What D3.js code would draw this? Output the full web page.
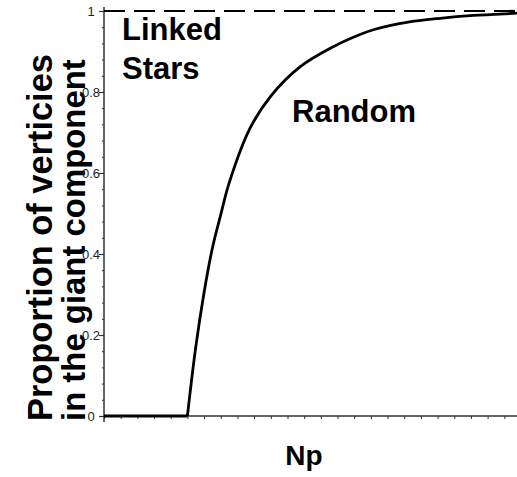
<!DOCTYPE html>
<html>
<head>
<meta charset="utf-8">
<script src="https://cdn.jsdelivr.net/npm/d3@7"></script>
<style>
  html, body { margin: 0; padding: 0; background: #fff; }
  svg { display: block; }
  text { font-family: "Liberation Sans", Arial, sans-serif; }
</style>
</head>
<body>
<svg id="chart" width="517" height="477"></svg>
<script>
// Below threshold (Np < 1) there is no giant component
const flatNp = [0, 1];
const flatFraction = [0, 0];

// Random graph: fraction of vertices in the giant component vs. Np
const randomNp = [1, 1.1, 1.2, 1.3, 1.4, 1.5, 1.75, 2, 2.35, 2.75, 3.07, 3.25, 3.63, 4.03, 4.43, 4.9, 5];
const randomFraction = [0, 0.17, 0.305, 0.415, 0.497, 0.575, 0.71, 0.79, 0.862, 0.912, 0.942, 0.955, 0.972, 0.982, 0.989, 0.994, 0.995];

// Linked stars: everything is connected
const starsFraction = 1;

const yTickValues = [0, 0.2, 0.4, 0.6, 0.8, 1];
const yTickLabels = ["0", "0.2", "0.4", "0.6", "0.8", "1"];

const svg = d3.select("#chart");
const x = d3.scaleLinear().domain([0, 5]).range([104, 521]);
const y = d3.scaleLinear().domain([0, 1]).range([416, 11]);

const axisColor = "#333";
const bold = sel => sel.attr("font-weight", "bold").attr("fill", "#000");

// Axis title (drawn first so tick labels sit on top of it)
const yTitle = svg.append("text")
  .attr("transform", "translate(0,421) rotate(-90)")
  .call(bold);
yTitle.append("tspan").attr("x", 0).attr("y", 52).attr("font-size", 34.4)
  .text("Proportion of verticies");
yTitle.append("tspan").attr("x", 0).attr("y", 85).attr("font-size", 32.9)
  .text("in the giant component");

// Axes
const yMinor = d3.range(0, 1.0001, 0.04);
const xMinor = d3.range(0, 5.0001, 0.2);

const yAxisG = svg.append("g").attr("transform", `translate(${x(0)},0)`);
yAxisG.call(d3.axisLeft(y).tickValues(yMinor).tickSize(2).tickFormat(""));
yAxisG.select(".domain").remove();
yAxisG.selectAll("line").attr("stroke", axisColor);
const yMajor = svg.append("g").attr("transform", `translate(${x(0)},0)`)
  .call(d3.axisLeft(y).tickValues(yTickValues).tickSize(5).tickPadding(8)
    .tickFormat((d, i) => yTickLabels[i]));
yMajor.select(".domain").remove();
yMajor.selectAll("line").attr("stroke", axisColor).attr("stroke-width", 1.2);
yMajor.selectAll("text")
  .attr("font-size", 13).attr("fill", "#222")
  .attr("text-anchor", "middle").attr("x", -13);

const xAxisG = svg.append("g").attr("transform", `translate(0,${y(0)})`);
xAxisG.call(d3.axisBottom(x).tickValues(xMinor).tickSize(3).tickFormat(""));
xAxisG.select(".domain").remove();
xAxisG.selectAll("line").attr("stroke", axisColor);

svg.append("line")
  .attr("x1", x(0)).attr("x2", 517)
  .attr("y1", y(0)).attr("y2", y(0))
  .attr("stroke", axisColor).attr("stroke-width", 1.5);
svg.append("line")
  .attr("x1", x(0)).attr("x2", x(0))
  .attr("y1", y(0) + 6).attr("y2", y(1) - 4)
  .attr("stroke", axisColor).attr("stroke-width", 1.5);

// Linked stars reference line
svg.append("line")
  .attr("x1", x(0)).attr("x2", 517)
  .attr("y1", y(starsFraction)).attr("y2", y(starsFraction))
  .attr("stroke", "#000").attr("stroke-width", 2.2)
  .attr("stroke-dasharray", "21,9");

// Random graph curve
const flatLine = d3.line().x(d => x(d[0])).y(d => y(d[1]));
svg.append("path")
  .attr("d", flatLine(d3.zip(flatNp, flatFraction)))
  .attr("fill", "none").attr("stroke", "#000").attr("stroke-width", 3);

const curve = d3.line().x(d => x(d[0])).y(d => y(d[1])).curve(d3.curveCatmullRom.alpha(0.5));
svg.append("path")
  .attr("d", curve(d3.zip(randomNp, randomFraction)))
  .attr("fill", "none").attr("stroke", "#000").attr("stroke-width", 2.8)
  .attr("stroke-linejoin", "round");

// Labels
svg.append("text").attr("x", 122).attr("y", 40).attr("font-size", 31).text("Linked").call(bold);
svg.append("text").attr("x", 122).attr("y", 79).attr("font-size", 31).text("Stars").call(bold);
svg.append("text").attr("x", 292).attr("y", 122).attr("font-size", 31).text("Random").call(bold);
svg.append("text").attr("x", 304).attr("y", 465).attr("font-size", 28)
  .attr("text-anchor", "middle").text("Np").call(bold);
</script>
</body>
</html>
